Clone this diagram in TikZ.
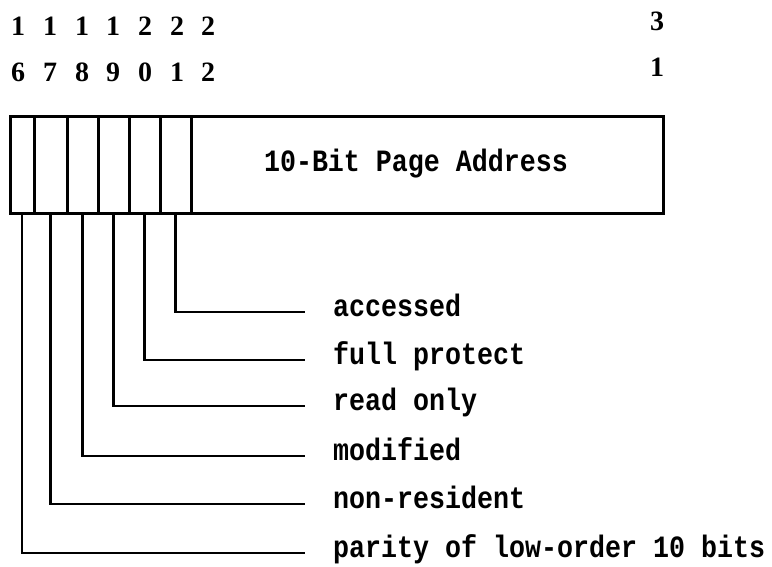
\documentclass[tikz,border=0pt]{standalone}
\usepackage{fontspec}
\usepackage{tikz}
\usetikzlibrary{positioning}

\newfontfamily\typefont{Liberation Mono}[FakeStretch=0.86]
\newfontfamily\digitfont{Liberation Serif}

\begin{document}
\begin{tikzpicture}[
  x=1pt, y=-1pt,
  cell/.style={draw, line width=3pt, outer sep=0pt, inner sep=0pt, minimum height=97pt},
  leader/.style={line width=2.6pt},
  lbl/.style={anchor=base west, inner sep=0pt, font=\typefont\bfseries\fontsize{31}{31}\selectfont},
  bitno/.style={inner sep=0pt, font=\digitfont\bfseries\fontsize{28}{28}\selectfont},
]
\useasboundingbox (0,0) rectangle (772,566);

% bit numbers
\node[bitno] (h16) at (18,26) {1};
\node[bitno] (h17) at (50,26) {1};
\node[bitno] (h18) at (82,26) {1};
\node[bitno] (h19) at (113,26) {1};
\node[bitno] (h20) at (145,26) {2};
\node[bitno] (h21) at (177,26) {2};
\node[bitno] (h22) at (208,26) {2};
\node[bitno] (h31) at (657,21) {3};
\node[bitno] (l16) at (18,72) {6};
\node[bitno] (l17) at (50,72) {7};
\node[bitno] (l18) at (82,72) {8};
\node[bitno] (l19) at (113,72) {9};
\node[bitno] (l20) at (145,72) {0};
\node[bitno] (l21) at (177,72) {1};
\node[bitno] (l22) at (208,72) {2};
\node[bitno] (l31) at (657,67) {1};

% the word
\node[cell, minimum width=24pt] (b16) at (22,164.5) {};
\node[cell, minimum width=33pt] (b17) at (50.5,164.5) {};
\node[cell, minimum width=31pt] (b18) at (82.5,164.5) {};
\node[cell, minimum width=31pt] (b19) at (113.5,164.5) {};
\node[cell, minimum width=31pt] (b20) at (144.5,164.5) {};
\node[cell, minimum width=31pt] (b21) at (175.5,164.5) {};
\node[cell, minimum width=472pt] (page) at (427,164.5) {};
\node[lbl, anchor=center] (pagetxt) at (416,164) {10-Bit Page Address};

% leader ends and labels
\coordinate (e21) at (305,312);
\coordinate (e20) at (305,360);
\coordinate (e19) at (305,406);
\coordinate (e18) at (305,456);
\coordinate (e17) at (305,504);
\coordinate (e16) at (305,553);
\node[lbl] (t21) at (333,316) {accessed};
\node[lbl] (t20) at (333,364) {full protect};
\node[lbl] (t19) at (333,410) {read only};
\node[lbl] (t18) at (333,460) {modified};
\node[lbl] (t17) at (333,508) {non-resident};
\node[lbl] (t16) at (333,557) {parity of low-order 10 bits};

\draw[leader] (b21.south) |- (e21);
\draw[leader] (b20.south) |- (e20);
\draw[leader] (b19.south) |- (e19);
\draw[leader] (b18.south) |- (e18);
\draw[leader] (b17.south) |- (e17);
\draw[leader] (b16.south) |- (e16);

\end{tikzpicture}
\end{document}
